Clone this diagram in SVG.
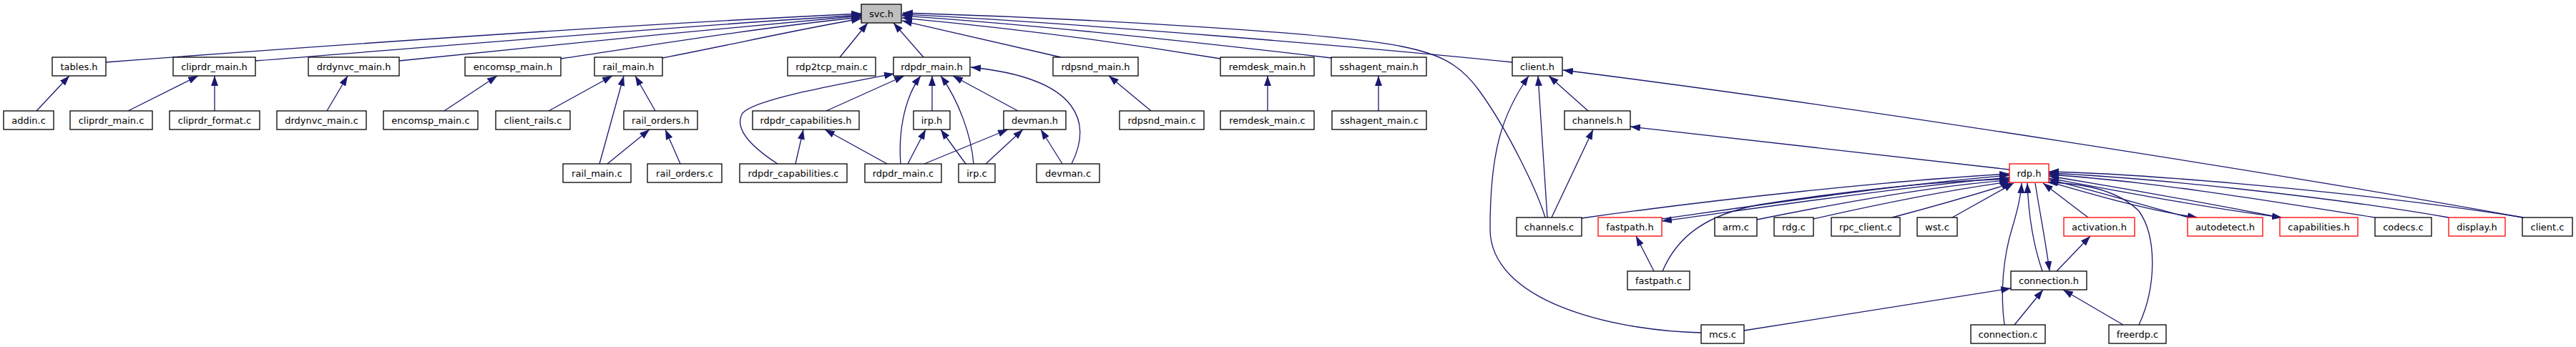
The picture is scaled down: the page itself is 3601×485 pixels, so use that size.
<svg xmlns="http://www.w3.org/2000/svg" width="3601" height="485" viewBox="0 0 3601 485">
<style>
.node rect{fill:#fff;stroke:#000;stroke-width:1.3}
.node.red rect{stroke:#f00}
.node.root rect{fill:#bfbfbf}
.node text{font-family:"DejaVu Sans","Liberation Sans",sans-serif;font-size:13px;text-anchor:middle;fill:#000}
#edges path{fill:none;stroke:#191970;stroke-width:1.3;marker-end:url(#arr)}
</style>
<defs>
<marker id="arr" viewBox="0 0 14 10" markerWidth="14" markerHeight="10" refX="14" refY="5" orient="auto" markerUnits="userSpaceOnUse">
<path d="M0,0 L14,5 L0,10 z" fill="#191970"/>
</marker>
</defs>
<rect width="3601" height="485" fill="#fff"/>
<g id="edges">
<path d="M148,87 C450,64 850,36 1204,19"/>
<path d="M357,85 C600,66 900,40 1204,21"/>
<path d="M558,85 C750,65 1000,40 1204,22"/>
<path d="M784,82 C900,65 1050,40 1204,24"/>
<path d="M926,81 C1020,63 1120,40 1204,26"/>
<path d="M1174,80 L1213,32"/>
<path d="M1291,80 L1249,32"/>
<path d="M1483,80 L1261,29"/>
<path d="M1706,82 C1560,58 1400,38 1261,25"/>
<path d="M1861,81 C1700,62 1450,35 1261,22"/>
<path d="M2114,87 C1900,65 1500,32 1261,20"/>
<path d="M2160,304 C2150,270 2110,185 2068,127 C2040,88 2010,75 1960,65 C1860,45 1500,25 1262,18"/>
<path d="M51,155 L97,106"/>
<path d="M179,155 L277,106"/>
<path d="M300,155 L300,106"/>
<path d="M457,155 L486,106"/>
<path d="M621,155 L695,106"/>
<path d="M767,155 L856,106"/>
<path d="M838,229 L872,106"/>
<path d="M916,155 L888,106"/>
<path d="M849,229 L908,181"/>
<path d="M951,229 L930,181"/>
<path d="M1087,229 C1050,205 1025,180 1038,158 C1055,140 1150,122 1250,103"/>
<path d="M1155,155 L1264,106"/>
<path d="M1112,229 L1123,181"/>
<path d="M1240,229 L1153,181"/>
<path d="M1259,229 C1256,190 1262,140 1287,106"/>
<path d="M1303,155 L1303,106"/>
<path d="M1361,229 C1358,190 1340,140 1315,106"/>
<path d="M1423,155 L1332,106"/>
<path d="M1498,229 C1525,175 1515,110 1357,94"/>
<path d="M1269,229 L1294,181"/>
<path d="M1350,229 L1315,181"/>
<path d="M1292,229 L1409,181"/>
<path d="M1378,229 L1430,181"/>
<path d="M1485,229 L1455,181"/>
<path d="M1609,155 L1550,106"/>
<path d="M1772,155 L1772,106"/>
<path d="M1927,155 L1927,106"/>
<path d="M2220,155 L2165,106"/>
<path d="M2163,304 C2160,250 2155,180 2150,106"/>
<path d="M2378,465 C2250,462 2083,420 2083,320 C2083,210 2100,160 2137,106"/>
<path d="M3527,304 C3200,245 2600,150 2185,98"/>
<path d="M2169,304 L2227,181"/>
<path d="M2809,237 L2279,177"/>
<path d="M2211,305 C2400,278 2650,252 2809,243"/>
<path d="M2323,306 C2450,288 2650,258 2809,245"/>
<path d="M2809,248 C2650,262 2450,292 2323,309"/>
<path d="M2324,379 C2345,330 2385,300 2460,286 C2600,264 2720,253 2809,250"/>
<path d="M2456,307 C2600,278 2720,258 2809,252"/>
<path d="M2535,306 C2650,280 2750,262 2810,254"/>
<path d="M2645,304 C2720,284 2780,266 2812,256"/>
<path d="M2729,304 L2815,256"/>
<path d="M2919,304 L2856,256"/>
<path d="M2855,379 C2845,350 2836,310 2834,256"/>
<path d="M2845,256 C2852,300 2860,340 2865,379"/>
<path d="M2802,454 C2796,410 2800,360 2813,318 C2820,295 2825,275 2826,256"/>
<path d="M3527,304 C3300,268 3000,243 2864,240"/>
<path d="M3423,304 C3250,274 3000,248 2864,242"/>
<path d="M3320,304 C3150,277 3000,253 2864,244"/>
<path d="M3188,304 C3080,283 2950,260 2864,246"/>
<path d="M2864,249 C2950,265 3080,290 3190,304"/>
<path d="M3060,304 C3000,288 2920,264 2864,251"/>
<path d="M2864,254 C2920,270 3000,294 3072,304"/>
<path d="M2990,454 C3015,400 3015,330 2990,295 C2960,265 2910,256 2862,255"/>
<path d="M2438,462 L2811,403"/>
<path d="M2816,454 L2856,405"/>
<path d="M2968,454 L2884,405"/>
<path d="M2875,379 L2922,330"/>
<path d="M2312,379 L2287,330"/>
</g>
<g id="n_svc_h" class="node root"><rect x="1204" y="6" width="56" height="26"/><text x="1232" y="23.5">svc.h</text></g>
<g id="n_tables_h" class="node"><rect x="73" y="80" width="75" height="26"/><text x="110.5" y="97.5">tables.h</text></g>
<g id="n_cliprdr_main_h" class="node"><rect x="242" y="80" width="115" height="26"/><text x="299.5" y="97.5">cliprdr_main.h</text></g>
<g id="n_drdynvc_main_h" class="node"><rect x="431" y="80" width="127" height="26"/><text x="494.5" y="97.5">drdynvc_main.h</text></g>
<g id="n_encomsp_main_h" class="node"><rect x="650" y="80" width="134" height="26"/><text x="717" y="97.5">encomsp_main.h</text></g>
<g id="n_rail_main_h" class="node"><rect x="831" y="80" width="95" height="26"/><text x="878.5" y="97.5">rail_main.h</text></g>
<g id="n_rdp2tcp_main_c" class="node"><rect x="1101" y="80" width="123" height="26"/><text x="1162.5" y="97.5">rdp2tcp_main.c</text></g>
<g id="n_rdpdr_main_h" class="node"><rect x="1249" y="80" width="107" height="26"/><text x="1302.5" y="97.5">rdpdr_main.h</text></g>
<g id="n_rdpsnd_main_h" class="node"><rect x="1472" y="80" width="119" height="26"/><text x="1531.5" y="97.5">rdpsnd_main.h</text></g>
<g id="n_remdesk_main_h" class="node"><rect x="1706" y="80" width="131" height="26"/><text x="1771.5" y="97.5">remdesk_main.h</text></g>
<g id="n_sshagent_main_h" class="node"><rect x="1861" y="80" width="133" height="26"/><text x="1927.5" y="97.5">sshagent_main.h</text></g>
<g id="n_client_h" class="node"><rect x="2114" y="80" width="70" height="26"/><text x="2149" y="97.5">client.h</text></g>
<g id="n_addin_c" class="node"><rect x="5" y="155" width="70" height="26"/><text x="40" y="172.5">addin.c</text></g>
<g id="n_cliprdr_main_c" class="node"><rect x="98" y="155" width="115" height="26"/><text x="155.5" y="172.5">cliprdr_main.c</text></g>
<g id="n_cliprdr_format_c" class="node"><rect x="237" y="155" width="126" height="26"/><text x="300" y="172.5">cliprdr_format.c</text></g>
<g id="n_drdynvc_main_c" class="node"><rect x="387" y="155" width="125" height="26"/><text x="449.5" y="172.5">drdynvc_main.c</text></g>
<g id="n_encomsp_main_c" class="node"><rect x="536" y="155" width="132" height="26"/><text x="602" y="172.5">encomsp_main.c</text></g>
<g id="n_client_rails_c" class="node"><rect x="693" y="155" width="104" height="26"/><text x="745" y="172.5">client_rails.c</text></g>
<g id="n_rail_orders_h" class="node"><rect x="872" y="155" width="103" height="26"/><text x="923.5" y="172.5">rail_orders.h</text></g>
<g id="n_rdpdr_capabilities_h" class="node"><rect x="1052" y="155" width="149" height="26"/><text x="1126.5" y="172.5">rdpdr_capabilities.h</text></g>
<g id="n_irp_h" class="node"><rect x="1277" y="155" width="51" height="26"/><text x="1302.5" y="172.5">irp.h</text></g>
<g id="n_devman_h" class="node"><rect x="1403" y="155" width="87" height="26"/><text x="1446.5" y="172.5">devman.h</text></g>
<g id="n_rdpsnd_main_c" class="node"><rect x="1565" y="155" width="118" height="26"/><text x="1624" y="172.5">rdpsnd_main.c</text></g>
<g id="n_remdesk_main_c" class="node"><rect x="1706" y="155" width="131" height="26"/><text x="1771.5" y="172.5">remdesk_main.c</text></g>
<g id="n_sshagent_main_c" class="node"><rect x="1862" y="155" width="132" height="26"/><text x="1928" y="172.5">sshagent_main.c</text></g>
<g id="n_channels_h" class="node"><rect x="2187" y="155" width="92" height="26"/><text x="2233" y="172.5">channels.h</text></g>
<g id="n_rail_main_c" class="node"><rect x="787" y="229" width="95" height="26"/><text x="834.5" y="246.5">rail_main.c</text></g>
<g id="n_rail_orders_c" class="node"><rect x="905" y="229" width="104" height="26"/><text x="957" y="246.5">rail_orders.c</text></g>
<g id="n_rdpdr_capabilities_c" class="node"><rect x="1034" y="229" width="150" height="26"/><text x="1109" y="246.5">rdpdr_capabilities.c</text></g>
<g id="n_rdpdr_main_c" class="node"><rect x="1209" y="229" width="107" height="26"/><text x="1262.5" y="246.5">rdpdr_main.c</text></g>
<g id="n_irp_c" class="node"><rect x="1340" y="229" width="51" height="26"/><text x="1365.5" y="246.5">irp.c</text></g>
<g id="n_devman_c" class="node"><rect x="1449" y="229" width="88" height="26"/><text x="1493" y="246.5">devman.c</text></g>
<g id="n_rdp_h" class="node red"><rect x="2809" y="229" width="55" height="26"/><text x="2836.5" y="246.5">rdp.h</text></g>
<g id="n_channels_c" class="node"><rect x="2120" y="304" width="91" height="26"/><text x="2165.5" y="321.5">channels.c</text></g>
<g id="n_fastpath_h" class="node red"><rect x="2234" y="304" width="89" height="26"/><text x="2278.5" y="321.5">fastpath.h</text></g>
<g id="n_arm_c" class="node"><rect x="2397" y="304" width="59" height="26"/><text x="2426.5" y="321.5">arm.c</text></g>
<g id="n_rdg_c" class="node"><rect x="2480" y="304" width="55" height="26"/><text x="2507.5" y="321.5">rdg.c</text></g>
<g id="n_rpc_client_c" class="node"><rect x="2560" y="304" width="96" height="26"/><text x="2608" y="321.5">rpc_client.c</text></g>
<g id="n_wst_c" class="node"><rect x="2680" y="304" width="56" height="26"/><text x="2708" y="321.5">wst.c</text></g>
<g id="n_activation_h" class="node red"><rect x="2885" y="304" width="99" height="26"/><text x="2934.5" y="321.5">activation.h</text></g>
<g id="n_autodetect_h" class="node red"><rect x="3058" y="304" width="105" height="26"/><text x="3110.5" y="321.5">autodetect.h</text></g>
<g id="n_capabilities_h" class="node red"><rect x="3187" y="304" width="109" height="26"/><text x="3241.5" y="321.5">capabilities.h</text></g>
<g id="n_codecs_c" class="node"><rect x="3320" y="304" width="79" height="26"/><text x="3359.5" y="321.5">codecs.c</text></g>
<g id="n_display_h" class="node red"><rect x="3423" y="304" width="79" height="26"/><text x="3462.5" y="321.5">display.h</text></g>
<g id="n_client_c" class="node"><rect x="3526" y="304" width="70" height="26"/><text x="3561" y="321.5">client.c</text></g>
<g id="n_fastpath_c" class="node"><rect x="2275" y="379" width="87" height="26"/><text x="2318.5" y="396.5">fastpath.c</text></g>
<g id="n_connection_h" class="node"><rect x="2811" y="379" width="106" height="26"/><text x="2864" y="396.5">connection.h</text></g>
<g id="n_mcs_c" class="node"><rect x="2378" y="454" width="60" height="26"/><text x="2408" y="471.5">mcs.c</text></g>
<g id="n_connection_c" class="node"><rect x="2755" y="454" width="104" height="26"/><text x="2807" y="471.5">connection.c</text></g>
<g id="n_freerdp_c" class="node"><rect x="2948" y="454" width="80" height="26"/><text x="2988" y="471.5">freerdp.c</text></g>
</svg>
